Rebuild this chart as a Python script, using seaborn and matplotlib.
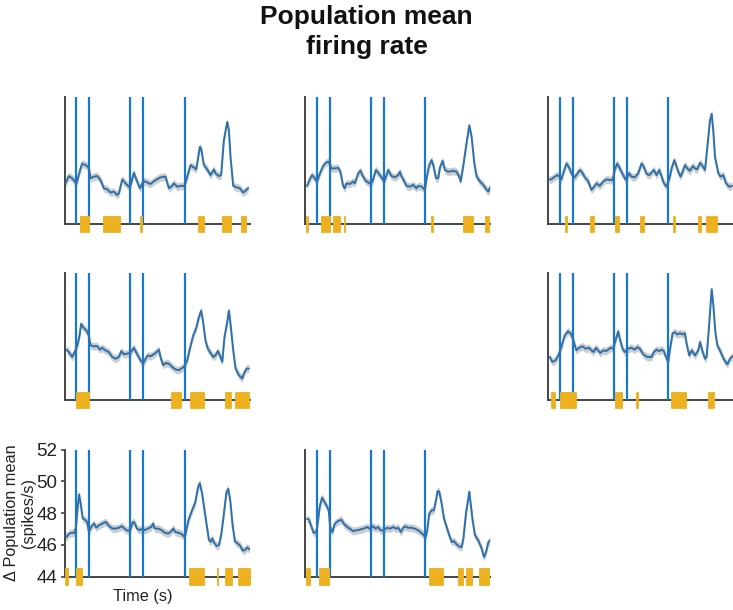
import numpy as np
import pandas as pd
import seaborn as sns
import matplotlib
matplotlib.use("Agg")
import matplotlib.pyplot as plt

# ---------------- data ----------------
event_times = [0.97, 2.0, 5.35, 6.37, 9.74]
y_ticks = [44, 46, 48, 50, 52]
ci_half = 0.25

t1 = [0.08, 0.35, 0.62, 0.97, 1.30, 1.43, 1.70, 1.97, 2.11, 2.38, 2.65, 2.92, 3.19, 3.46, 3.73, 4.00, 4.27, 4.41,
      4.68, 4.95, 5.22, 5.35, 5.62, 5.84, 6.11, 6.38, 6.57, 6.97, 7.38, 7.78, 8.19, 8.46, 8.73, 8.87, 9.14, 9.41,
      9.73, 9.95, 10.22, 10.49, 10.68, 10.97, 11.08, 11.30, 11.57, 11.84, 12.11, 12.24, 12.51, 12.70, 12.92, 13.19,
      13.33, 13.46, 13.68, 13.95, 14.22, 14.49, 14.76, 14.89]
v1 = [46.56, 47.02, 46.88, 46.56, 47.50, 47.81, 47.71, 47.56, 46.88, 46.98, 47.02, 46.77, 46.25, 46.19, 45.98,
      46.04, 45.83, 45.94, 46.81, 46.56, 46.35, 46.40, 47.23, 46.77, 46.25, 46.67, 46.67, 46.52, 46.77, 46.94,
      46.98, 46.25, 46.40, 46.56, 46.35, 46.40, 46.40, 46.98, 47.71, 47.56, 47.44, 48.85, 48.75, 47.71, 47.44,
      47.08, 47.44, 47.19, 47.02, 47.08, 49.27, 50.42, 49.90, 48.23, 46.40, 46.31, 46.25, 45.98, 46.15, 46.25]

t2 = [0.16, 0.38, 0.57, 0.79, 0.97, 1.19, 1.46, 1.68, 1.87, 2.00, 2.14, 2.41, 2.68, 2.87, 3.09, 3.22, 3.36, 3.63,
      3.90, 4.03, 4.31, 4.50, 4.71, 4.93, 5.25, 5.47, 5.74, 5.93, 6.20, 6.42, 6.61, 6.74, 7.01, 7.28, 7.56, 7.69,
      7.83, 8.02, 8.23, 8.50, 8.77, 9.04, 9.18, 9.45, 9.72, 9.86, 10.07, 10.26, 10.40, 10.62, 10.80, 10.94, 11.16,
      11.35, 11.62, 12.02, 12.29, 12.51, 12.62, 12.84, 13.11, 13.32, 13.51, 13.73, 13.92, 14.19, 14.46, 14.73,
      14.87, 15.00]
v2 = [46.40, 46.81, 47.08, 46.88, 46.67, 47.15, 47.65, 47.85, 47.92, 47.81, 47.50, 47.50, 47.54, 47.29, 46.40,
      46.25, 46.56, 46.52, 46.67, 46.56, 47.19, 47.35, 46.98, 46.71, 46.56, 46.67, 47.40, 47.23, 46.94, 46.67,
      47.08, 47.40, 47.02, 46.94, 47.08, 47.29, 46.98, 46.73, 46.40, 46.35, 46.46, 46.25, 46.40, 46.35, 46.15,
      46.88, 47.71, 48.02, 47.71, 46.88, 46.88, 47.56, 47.98, 47.40, 47.29, 47.35, 47.29, 46.98, 46.67, 47.71,
      49.17, 50.21, 49.48, 47.81, 46.98, 46.67, 46.46, 46.15, 46.04, 46.31]

t3 = [0.08, 0.27, 0.54, 0.76, 0.95, 1.08, 1.27, 1.49, 1.71, 1.90, 2.11, 2.30, 2.57, 2.79, 2.98, 3.25, 3.52, 3.71,
      3.93, 4.20, 4.47, 4.74, 5.01, 5.23, 5.42, 5.61, 5.82, 6.09, 6.28, 6.45, 6.58, 6.77, 7.04, 7.31, 7.58, 7.77,
      7.99, 8.21, 8.39, 8.58, 8.80, 9.02, 9.21, 9.40, 9.61, 9.88, 10.02, 10.24, 10.43, 10.56, 10.75, 10.91, 11.10,
      11.29, 11.51, 11.73, 11.92, 12.10, 12.32, 12.48, 12.73, 12.92, 13.13, 13.27, 13.40, 13.54, 13.81, 14.00,
      14.22, 14.43, 14.70, 14.92]
v3 = [46.81, 46.81, 46.98, 47.08, 46.98, 46.81, 47.29, 47.81, 47.56, 47.19, 46.92, 47.08, 47.40, 47.23, 46.94,
      46.71, 46.15, 46.31, 46.56, 46.40, 46.67, 46.81, 46.77, 46.77, 47.44, 47.81, 47.50, 47.08, 46.81, 46.98,
      47.19, 46.98, 46.94, 47.19, 47.81, 47.60, 47.15, 47.08, 47.23, 47.40, 47.08, 47.40, 46.98, 46.56, 46.35,
      46.98, 47.50, 48.02, 47.60, 47.29, 46.98, 47.29, 47.71, 47.50, 47.35, 47.65, 47.50, 47.44, 47.85, 47.71,
      47.40, 48.85, 50.52, 50.94, 49.90, 48.23, 47.19, 46.98, 47.08, 46.56, 46.35, 46.40]

t4 = [0.16, 0.35, 0.62, 0.89, 1.08, 1.24, 1.35, 1.51, 1.78, 1.97, 2.11, 2.38, 2.65, 2.87, 3.05, 3.32, 3.59, 3.87,
      4.14, 4.41, 4.60, 4.81, 5.08, 5.30, 5.49, 5.62, 5.84, 6.16, 6.38, 6.57, 6.76, 6.97, 7.24, 7.46, 7.65, 7.78,
      8.00, 8.19, 8.46, 8.73, 9.00, 9.27, 9.46, 9.68, 9.95, 10.16, 10.43, 10.70, 10.89, 11.08, 11.24, 11.43, 11.62,
      11.84, 12.06, 12.24, 12.43, 12.60, 12.79, 12.97, 13.19, 13.33, 13.46, 13.68, 13.87, 14.14, 14.41, 14.54,
      14.76, 14.95]
v4 = [47.17, 47.02, 46.71, 47.13, 47.54, 48.17, 48.79, 48.58, 48.38, 48.06, 47.44, 47.38, 47.40, 47.17, 47.29,
      47.13, 47.02, 46.71, 46.60, 46.71, 47.08, 46.88, 46.92, 46.96, 47.13, 47.29, 46.96, 46.50, 46.29, 46.60,
      46.81, 46.75, 46.88, 47.02, 47.17, 46.71, 46.19, 46.33, 46.29, 46.08, 45.92, 45.88, 45.98, 46.08, 46.50,
      47.23, 48.06, 48.58, 49.21, 49.63, 48.90, 47.75, 47.23, 46.96, 46.71, 46.81, 47.08, 46.81, 46.40, 47.96,
      48.90, 49.63, 48.79, 47.13, 45.98, 45.56, 45.35, 45.67, 45.98, 45.98]

t6 = [0.14, 0.35, 0.62, 0.89, 1.08, 1.35, 1.62, 1.90, 2.09, 2.30, 2.52, 2.79, 3.06, 3.33, 3.52, 3.71, 3.87, 4.06,
      4.25, 4.47, 4.68, 4.87, 5.06, 5.28, 5.47, 5.69, 5.82, 6.04, 6.23, 6.50, 6.77, 7.04, 7.23, 7.45, 7.72, 8.04,
      8.39, 8.58, 8.80, 9.02, 9.21, 9.40, 9.56, 9.75, 9.88, 10.10, 10.29, 10.48, 10.70, 10.91, 11.10, 11.24, 11.45,
      11.64, 11.92, 12.19, 12.32, 12.54, 12.73, 12.86, 13.05, 13.27, 13.40, 13.57, 13.73, 14.00, 14.27, 14.54,
      14.76, 14.95]
v6 = [46.71, 46.40, 46.50, 46.92, 47.33, 48.06, 48.33, 48.13, 47.65, 47.13, 47.29, 47.38, 47.23, 47.29, 47.13,
      47.02, 47.29, 47.13, 46.96, 47.13, 47.08, 47.17, 47.29, 47.23, 47.75, 48.33, 47.85, 47.23, 47.02, 47.23,
      47.29, 47.17, 47.33, 47.23, 46.88, 46.71, 46.71, 47.02, 47.17, 47.08, 47.17, 47.08, 46.71, 46.40, 47.13,
      48.21, 48.27, 48.13, 48.21, 48.13, 48.21, 47.54, 46.81, 47.13, 46.81, 47.13, 47.65, 47.02, 46.60, 46.71,
      48.58, 50.98, 50.04, 48.27, 47.44, 47.02, 46.54, 46.25, 46.60, 46.75]

t7 = [0.05, 0.19, 0.38, 0.60, 0.82, 0.93, 1.07, 1.18, 1.29, 1.48, 1.65, 1.84, 1.97, 2.19, 2.39, 2.58, 2.80, 3.07,
      3.35, 3.62, 3.89, 4.17, 4.44, 4.66, 4.85, 5.13, 5.32, 5.43, 5.54, 5.68, 5.87, 6.09, 6.31, 6.50, 6.77, 7.05,
      7.18, 7.32, 7.60, 7.87, 8.14, 8.42, 8.61, 8.83, 8.97, 9.24, 9.51, 9.71, 9.79, 10.06, 10.34, 10.61, 10.83,
      10.97, 11.16, 11.35, 11.57, 11.71, 11.85, 11.98, 12.12, 12.34, 12.53, 12.72, 12.94, 13.13, 13.27, 13.44,
      13.63, 13.82, 14.04, 14.26, 14.45, 14.64, 14.81, 15.00]
v7 = [46.60, 46.50, 46.71, 46.75, 46.75, 47.13, 48.38, 49.17, 48.69, 47.65, 47.58, 47.44, 46.81, 47.17, 47.33,
      47.08, 47.23, 47.33, 47.44, 47.17, 47.02, 47.02, 47.08, 47.17, 47.02, 46.88, 46.92, 47.17, 47.44, 47.38,
      47.02, 46.92, 47.02, 46.92, 47.02, 47.13, 47.33, 47.02, 47.02, 46.92, 46.75, 46.71, 46.81, 47.02, 46.81,
      46.75, 46.67, 46.50, 46.60, 47.58, 48.17, 48.69, 49.63, 49.88, 49.21, 48.17, 47.02, 46.29, 46.19, 46.40,
      46.13, 45.92, 45.98, 46.71, 48.06, 49.31, 49.52, 48.79, 47.23, 46.19, 46.08, 45.92, 45.63, 45.67, 45.83,
      45.71]

t8 = [0.16, 0.32, 0.51, 0.70, 0.92, 1.06, 1.19, 1.38, 1.54, 1.73, 1.92, 2.06, 2.22, 2.41, 2.68, 2.95, 3.14, 3.36,
      3.63, 3.90, 4.17, 4.44, 4.71, 4.93, 5.04, 5.25, 5.52, 5.74, 5.93, 6.12, 6.34, 6.55, 6.66, 6.88, 7.15, 7.37,
      7.56, 7.77, 7.96, 8.10, 8.37, 8.64, 8.91, 9.18, 9.45, 9.64, 9.78, 9.91, 10.07, 10.26, 10.45, 10.62, 10.75,
      10.89, 11.08, 11.27, 11.48, 11.70, 11.89, 12.08, 12.29, 12.51, 12.70, 12.84, 13.05, 13.24, 13.32, 13.43,
      13.59, 13.78, 14.05, 14.33, 14.51, 14.68, 14.87, 15.00]
v8 = [47.64, 47.58, 47.16, 46.74, 46.80, 47.54, 48.38, 48.97, 48.76, 48.48, 48.17, 47.01, 46.80, 47.33, 47.49,
      47.58, 47.33, 47.16, 47.01, 46.86, 46.91, 46.95, 47.01, 47.07, 47.12, 47.01, 47.16, 47.01, 47.12, 46.91,
      46.91, 47.01, 47.07, 47.01, 47.12, 47.01, 47.07, 46.80, 47.07, 47.16, 47.07, 47.07, 47.01, 46.91, 46.74,
      46.59, 46.48, 46.91, 47.96, 48.17, 48.17, 48.80, 49.39, 49.33, 48.59, 47.64, 47.12, 46.59, 46.17, 46.23,
      46.02, 45.89, 45.85, 46.38, 47.96, 48.91, 49.33, 48.59, 47.54, 46.59, 46.27, 45.75, 45.22, 45.54, 46.17,
      46.27]

# significant-bin intervals (orange markers)
on1 = [1.24, 3.11, 6.11, 10.84, 12.81, 14.33]
off1 = [1.95, 4.46, 6.27, 11.35, 13.51, 14.68]
on2 = [0.08, 1.27, 2.27, 3.14, 10.21, 12.84, 14.57]
off2 = [0.27, 2.00, 2.82, 3.28, 10.34, 13.59, 14.89]
on3 = [1.41, 3.41, 5.47, 7.47, 10.13, 12.19, 12.81]
off3 = [1.57, 3.74, 5.77, 7.77, 10.32, 12.38, 13.68]
on4 = [0.97, 8.65, 10.16, 13.00, 13.81]
off4 = [1.95, 9.46, 11.35, 13.54, 14.95]
on6 = [0.22, 0.95, 5.44, 7.12, 9.99, 13.00]
off6 = [0.57, 2.25, 5.96, 7.31, 11.16, 13.49]
on7 = [0.05, 0.93, 10.12, 12.34, 13.00, 14.09]
off7 = [0.25, 1.43, 11.30, 12.48, 13.55, 15.00]
on8 = [0.08, 1.14, 10.07, 12.38, 13.03, 14.11]
off8 = [0.43, 1.95, 11.16, 12.84, 13.51, 14.89]

panels = [
    (0, 0, t1, v1, on1, off1),
    (0, 1, t2, v2, on2, off2),
    (0, 2, t3, v3, on3, off3),
    (1, 0, t4, v4, on4, off4),
    (1, 2, t6, v6, on6, off6),
    (2, 0, t7, v7, on7, off7),
    (2, 1, t8, v8, on8, off8),
]

# ---------------- style ----------------
sns.set_theme(style="white")
plt.rcParams["font.family"] = ["Liberation Sans", "DejaVu Sans"]

line_color = "#2f72ab"
event_color = "#1679cf"
orange = "#EDB120"
spine_color = "#444444"

W, H = 733, 610
fig = plt.figure(figsize=(W / 100, H / 100), dpi=100)
col_left = [64.5, 305, 548]
row_bottom = [224, 400, 576.5]
aw, ah = 185, 127

for r, c, tt, vv, on, off in panels:
    ax = fig.add_axes([col_left[c] / W, 1 - row_bottom[r] / H, aw / W, ah / H])
    tt = np.asarray(tt)
    vv = np.asarray(vv)
    df = pd.DataFrame({
        "t": np.concatenate([tt, tt, tt]),
        "v": np.concatenate([vv - ci_half, vv, vv + ci_half]),
    })
    sns.lineplot(data=df, x="t", y="v", estimator="mean", errorbar=("pi", 100),
                 color=line_color, lw=1.45, ax=ax, zorder=5,
                 err_kws=dict(facecolor="#a6a6a6", alpha=0.55, lw=0))
    for e in event_times:
        ax.axvline(e, color=event_color, lw=1.6, zorder=3)
    on_a = np.asarray(on)
    off_a = np.asarray(off)
    ax.bar(on_a, 1.04, width=off_a - on_a, bottom=43.48, align="edge",
           color=orange, edgecolor=orange, linewidth=0.6, clip_on=False, zorder=6)
    ax.set_xlim(0, 15)
    ax.set_ylim(44, 52)
    for s in ["top", "right"]:
        ax.spines[s].set_visible(False)
    for s in ["left", "bottom"]:
        ax.spines[s].set_color(spine_color)
        ax.spines[s].set_linewidth(1.4)
    ax.set_xticks([])
    ax.set_xlabel("")
    ax.set_ylabel("")
    if r == 2 and c == 0:
        ax.set_yticks(y_ticks)
        ax.set_yticklabels([str(v) for v in y_ticks])
        ax.tick_params(axis="y", left=True, length=3, width=1.2, color=spine_color,
                       labelsize=13.5, pad=2, labelcolor="#222222")
        ax.set_ylabel("\u0394 Population mean\n(spikes/s)", fontsize=11.7,
                      linespacing=1.15, color="#222222")
        ax.yaxis.set_label_coords((20 - 64.5) / aw, 0.5)
        ax.yaxis.label.set_va("center")
        ax.set_xlabel("Time (s)", fontsize=11.7, color="#222222")
        ax.xaxis.set_label_coords((143 - 64.5) / aw, -(597 - 576.5) / ah)
        ax.xaxis.label.set_va("center")
    else:
        ax.set_yticks([])

fig.text(0.5, 1 - 32 / H, "Population mean\nfiring rate", ha="center", va="center",
         fontsize=19, fontweight="bold", linespacing=1.3, color="#111111")

fig.savefig("out.png", dpi=100)
